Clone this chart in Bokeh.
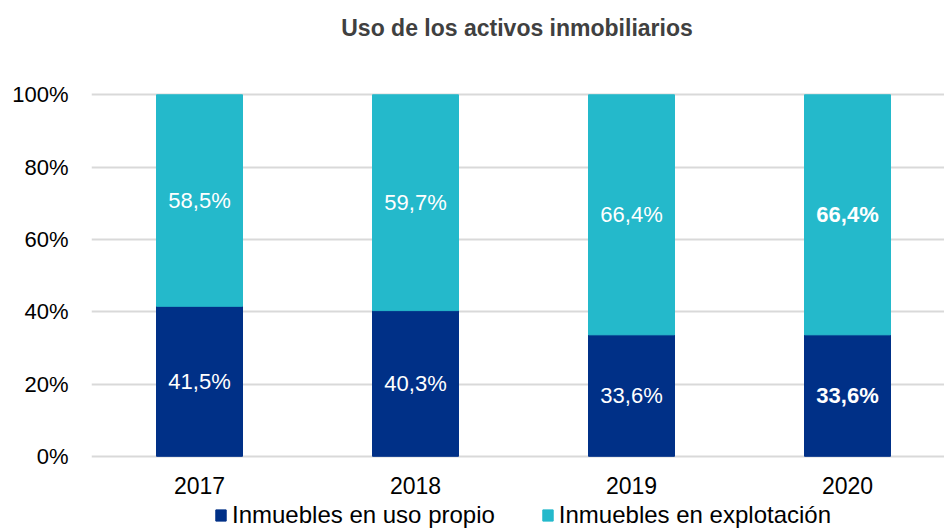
from bokeh.plotting import figure
from bokeh.models import ColumnDataSource, Label, Legend, LegendItem, FixedTicker, NumeralTickFormatter, Range1d
from bokeh.core.properties import value
from bokeh.embed import file_html
from bokeh.resources import INLINE

years = ["2017", "2018", "2019", "2020"]
uso_propio = [41.5, 40.3, 33.6, 33.6]
explotacion = [58.5, 59.7, 66.4, 66.4]
bold_years = ["2020"]
y_ticks = [0, 20, 40, 60, 80, 100]

C_DARK = "#003087"
C_CYAN = "#24B9CB"
FONT = "Liberation Sans"

# layout constants (pixels)
W, H = 944, 529
LEFT = 91
Y0_PX, Y100_PX = 455.8, 94.3          # pixel rows of 0% and 100%
PX_PER_UNIT = Y0_PX - Y100_PX
CAT_PX = 216.0
BAR_PX = 86.0

xs = [i + 0.5 for i in range(len(years))]
src = ColumnDataSource(dict(
    x=xs,
    a=[v / 100 for v in uso_propio],
    b=[(u + e) / 100 for u, e in zip(uso_propio, explotacion)],
    zero=[0] * len(years),
))

y_start = -(H - Y0_PX) / PX_PER_UNIT
y_end = 1 + Y100_PX / PX_PER_UNIT
x_end = (W - LEFT) / CAT_PX

p = figure(width=W, height=H, output_backend="svg", toolbar_location=None,
           x_range=Range1d(0, x_end), y_range=Range1d(y_start, y_end),
           min_border_left=LEFT, min_border_right=0, min_border_top=0, min_border_bottom=0)
p.outline_line_color = None
p.background_fill_color = "white"
p.border_fill_color = "white"

r1 = p.vbar(x="x", bottom="zero", top="a", width=BAR_PX / CAT_PX, color=C_DARK, source=src)
r2 = p.vbar(x="x", bottom="a", top="b", width=BAR_PX / CAT_PX, color=C_CYAN, source=src)

# bar labels
lx, ly, lt, ls = [], [], [], []
for i, yr in enumerate(years):
    st = "bold" if yr in bold_years else "normal"
    lx += [xs[i], xs[i]]
    ly += [uso_propio[i] / 200, (uso_propio[i] + explotacion[i] / 2) / 100]
    lt += [f"{uso_propio[i]:.1f}%".replace(".", ","), f"{explotacion[i]:.1f}%".replace(".", ",")]
    ls += [st, st]
lsrc = ColumnDataSource(dict(x=lx, y=ly, t=lt, s=ls))
p.text(x="x", y="y", text="t", source=lsrc, text_color="white", text_align="center",
       text_baseline="middle", text_font=value(FONT), text_font_size="22px", text_font_style="s")

# category labels (drawn as text so that they sit inside the frame)
ysrc = ColumnDataSource(dict(x=xs, y=[-(484.5 - Y0_PX) / PX_PER_UNIT] * len(years), t=years))
p.text(x="x", y="y", text="t", source=ysrc, text_color="black", text_align="center",
       text_baseline="middle", text_font=value(FONT), text_font_size="23px")

p.xaxis.visible = False

p.yaxis.ticker = FixedTicker(ticks=[t / 100 for t in y_ticks])
p.yaxis.formatter = NumeralTickFormatter(format="0%")
p.yaxis.axis_line_color = None
p.yaxis.major_tick_line_color = None
p.yaxis.minor_tick_line_color = None
p.yaxis.major_label_text_font = FONT
p.yaxis.major_label_text_font_size = "22px"
p.yaxis.major_label_text_color = "black"
p.yaxis.major_label_standoff = 17

p.xgrid.grid_line_color = None
p.ygrid.ticker = FixedTicker(ticks=[t / 100 for t in y_ticks])
p.ygrid.grid_line_color = "#D9D9D9"
p.ygrid.grid_line_width = 2

title = Label(x=(516.5 - LEFT) / CAT_PX, y=1 + (Y100_PX - 27) / PX_PER_UNIT,
              text="Uso de los activos inmobiliarios",
              text_font=FONT, text_font_size="23px", text_font_style="bold", text_color="#404040",
              text_align="center", text_baseline="middle")
p.add_layout(title)

legend = Legend(items=[LegendItem(label="Inmuebles en uso propio", renderers=[r1]),
                       LegendItem(label="Inmuebles en explotación", renderers=[r2])],
                orientation="horizontal", location=(123, 0),
                label_text_font=FONT, label_text_font_size="24px", label_text_color="black",
                glyph_width=13, glyph_height=14, label_standoff=5, spacing=46,
                padding=0, margin=0, border_line_color=None, background_fill_alpha=0)
p.add_layout(legend, "center")

open("out.html", "w").write(file_html(p, INLINE))
